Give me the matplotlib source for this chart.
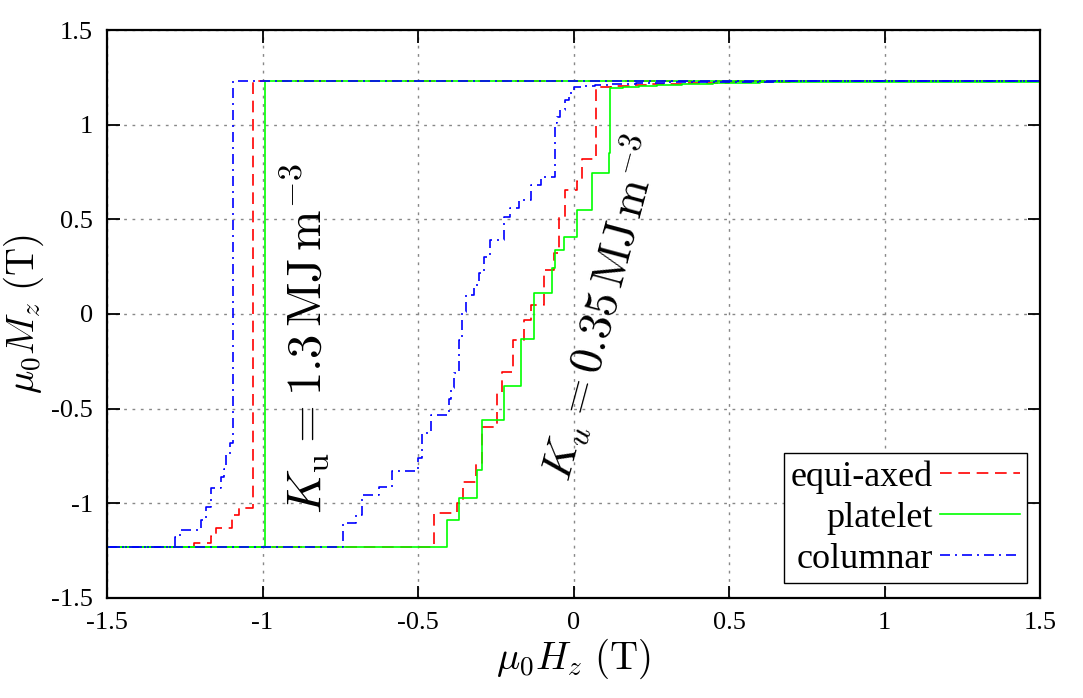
import numpy as np
import matplotlib.pyplot as plt

plt.rcParams['font.family'] = ['Liberation Serif', 'DejaVu Serif']
plt.rcParams['mathtext.fontset'] = 'cm'

# Ku = 1.3 MJ/m^3 : branch coming down from +saturation (x decreasing)
h_eq_hard = [1.5, -1.031, -1.074, -1.097, -1.151, -1.165, -1.221, -1.5]
m_eq_hard = [1.232, -1.027, -1.062, -1.132, -1.170, -1.211, -1.232, -1.232]
h_pl_hard = [1.5, -0.993, -1.5]
m_pl_hard = [1.232, -1.232, -1.232]
h_co_hard = [1.5, -1.094, -1.106, -1.117, -1.124, -1.135, -1.167, -1.183,
             -1.199, -1.264, -1.28, -1.5]
m_co_hard = [1.232, -0.68, -0.74, -0.82, -0.86, -0.92, -1.02, -1.09,
             -1.14, -1.176, -1.232, -1.232]

# Ku = 0.35 MJ/m^3 : branch going up from -saturation (x increasing)
h_eq_soft = [-1.5, -0.447, -0.374, -0.355, -0.315, -0.294, -0.245, -0.229,
             -0.194, -0.16, -0.138, -0.095, -0.063, -0.047, -0.026, 0.012,
             0.028, 0.071, 0.12, 0.18, 0.25, 0.35, 0.5, 0.7, 1.5]
m_eq_soft = [-1.232, -1.053, -1.0, -0.886, -0.789, -0.595, -0.41, -0.305,
             -0.137, -0.03, 0.05, 0.23, 0.32, 0.514, 0.655, 0.70,
             0.817, 1.20, 1.206, 1.212, 1.217, 1.221, 1.225, 1.229, 1.232]
h_pl_soft = [-1.5, -0.408, -0.369, -0.31, -0.294, -0.224, -0.17, -0.128,
             -0.069, -0.058, -0.031, 0.01, 0.06, 0.114, 0.118, 0.16, 0.21,
             0.27, 0.35, 0.45, 0.6, 0.8, 1.5]
m_pl_soft = [-1.232, -1.088, -0.97, -0.824, -0.56, -0.38, -0.13, 0.11,
             0.241, 0.338, 0.408, 0.549, 0.743, 0.85, 1.193, 1.198, 1.203,
             1.208, 1.213, 1.218, 1.223, 1.228, 1.232]
h_co_soft = [-1.5, -0.741, -0.70, -0.68, -0.626, -0.583, -0.50, -0.488,
             -0.458, -0.401, -0.393, -0.385, -0.369, -0.358, -0.347, -0.32,
             -0.305, -0.288, -0.269, -0.224, -0.203, -0.176, -0.138, -0.106,
             -0.058, -0.052, -0.042, -0.026, -0.015, 0.0, 0.03, 0.07, 0.12,
             0.2, 0.3, 0.45, 0.65, 1.5]
m_co_soft = [-1.232, -1.102, -1.06, -0.956, -0.912, -0.828, -0.76, -0.63,
             -0.534, -0.45, -0.393, -0.313, -0.137, 0.012, 0.10, 0.153,
             0.215, 0.303, 0.39, 0.514, 0.56, 0.602, 0.681, 0.725,
             1.007, 1.04, 1.078, 1.13, 1.166, 1.2, 1.206, 1.211, 1.215,
             1.219, 1.223, 1.227, 1.230, 1.232]

ticks = [-1.5, -1, -0.5, 0, 0.5, 1, 1.5]
tick_labels = ['-1.5', '-1', '-0.5', '0', '0.5', '1', '1.5']

fig = plt.figure(figsize=(10.83, 6.98), dpi=100)
ax = fig.add_axes([0.0988, 0.1433, 0.8615, 0.8137])

red = '#ff0000'
green = '#00ff00'
blue = '#0000ff'
lw = 1.2
dash = (0, (7, 4))
dashdot = (0, (6, 3, 1.2, 3))

ax.plot(h_eq_hard, m_eq_hard, drawstyle='steps-post', color=red, lw=lw, ls=dash, label='equi-axed')
ax.plot(h_eq_soft, m_eq_soft, drawstyle='steps-post', color=red, lw=lw, ls=dash)
ax.plot(h_pl_hard, m_pl_hard, drawstyle='steps-post', color=green, lw=lw, label='platelet')
ax.plot(h_pl_soft, m_pl_soft, drawstyle='steps-post', color=green, lw=lw)
ax.plot(h_co_hard, m_co_hard, drawstyle='steps-post', color=blue, lw=lw, ls=dashdot, label='columnar')
ax.plot(h_co_soft, m_co_soft, drawstyle='steps-post', color=blue, lw=lw, ls=dashdot)

ax.set_xlim(-1.5, 1.5)
ax.set_ylim(-1.5, 1.5)
ax.set_xticks(ticks)
ax.set_xticklabels(tick_labels)
ax.set_yticks(ticks)
ax.set_yticklabels(tick_labels)
ax.tick_params(direction='in', top=True, right=True, length=9, width=1.3,
               labelsize=19, pad=10)
for s in ax.spines.values():
    s.set_linewidth(1.6)
ax.grid(True, color='#888888', ls=(0, (2, 4)), lw=1.0)
ax.set_axisbelow(True)

ax.set_xlabel(r'$\mu_0 H_z\ (\mathrm{T})$', fontsize=28, labelpad=2)
ax.set_ylabel(r'$\mu_0 M_z\ (\mathrm{T})$', fontsize=28, labelpad=4)

ax.text(-0.865, -0.13, r'$K_\mathrm{u} = 1.3\,\mathrm{MJ\,m^{-3}}$', rotation=90,
        fontsize=35, ha='center', va='center')
ax.text(0.085, 0.03, r'$K_u = 0.35\,\mathrm{MJ\,m^{-3}}$', rotation=75,
        fontsize=33, ha='center', va='center', rotation_mode='anchor')

leg = ax.legend(loc='lower right', bbox_to_anchor=(0.986, 0.026), borderaxespad=0,
                markerfirst=False, fontsize=26, fancybox=False, framealpha=1,
                edgecolor='black', handlelength=2.2, labelspacing=0.22,
                handletextpad=0.2, borderpad=0.2)
leg.get_frame().set_linewidth(1.0)

plt.savefig('out.png', dpi=100)
